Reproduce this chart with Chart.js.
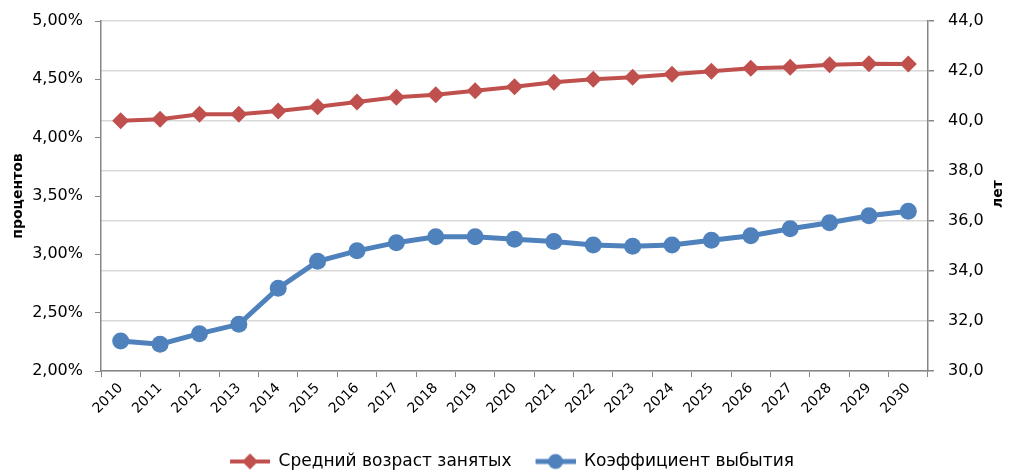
<!DOCTYPE html>
<html>
<head>
<meta charset="utf-8">
<script src="https://cdn.jsdelivr.net/npm/chart.js@4"></script>
<style>
  html, body { margin: 0; padding: 0; background: #fff; }
  #wrap { width: 1010px; height: 473px; }
</style>
</head>
<body>
<div id="wrap"><canvas id="myChart" width="1010" height="473"></canvas></div>
<script>
const years = ['2010', '2011', '2012', '2013', '2014', '2015', '2016', '2017', '2018', '2019', '2020',
  '2021', '2022', '2023', '2024', '2025', '2026', '2027', '2028', '2029', '2030'];

// средний возраст занятых, лет (правая ось)
const avgAge = [40.01, 40.07, 40.27, 40.27, 40.40, 40.57, 40.76, 40.95, 41.05, 41.21, 41.37,
  41.55, 41.67, 41.75, 41.87, 41.99, 42.11, 42.15, 42.25, 42.29, 42.28];

// коэффициент выбытия, % (левая ось)
const retireRate = [2.257, 2.23, 2.32, 2.40, 2.71, 2.94, 3.03, 3.10, 3.15, 3.15, 3.13,
  3.11, 3.08, 3.07, 3.08, 3.12, 3.16, 3.22, 3.27, 3.33, 3.37];

const red = '#C0504D';
const blue = '#4F81BD';
const axisGray = '#868686';
const font = 'DejaVu Sans';

// значок легенды: линия с маркером, слева пустое место как отступ между пунктами
function legendIcon(color, kind) {
  const c = document.createElement('canvas');
  c.width = 54; c.height = 18;
  const g = c.getContext('2d');
  g.strokeStyle = color;
  g.lineWidth = kind === 'circle' ? 5 : 4;
  g.beginPath(); g.moveTo(14, 9); g.lineTo(54, 9); g.stroke();
  g.fillStyle = color;
  g.beginPath();
  if (kind === 'circle') {
    g.arc(34, 9, 7.5, 0, Math.PI * 2);
  } else {
    g.moveTo(34, 1); g.lineTo(42, 9); g.lineTo(34, 17); g.lineTo(26, 9); g.closePath();
  }
  g.fill();
  return c;
}
const icons = [legendIcon(red, 'diamond'), legendIcon(blue, 'circle')];

// правая подпись оси читается снизу вверх, как и левая
const rightTitle = {
  id: 'rightTitle',
  afterDraw(chart) {
    const ctx = chart.ctx;
    ctx.save();
    ctx.translate(998, 194);
    ctx.rotate(-Math.PI / 2);
    ctx.font = 'bold 14px ' + font;
    ctx.fillStyle = '#000';
    ctx.textAlign = 'center';
    ctx.textBaseline = 'middle';
    ctx.fillText('лет', 0, 0);
    ctx.restore();
  }
};

function noPad(scale) {
  scale.paddingTop = 0;
  scale.paddingBottom = 0;
}

new Chart(document.getElementById('myChart'), {
  type: 'line',
  data: {
    labels: years,
    datasets: [{
      label: 'Средний возраст занятых',
      data: avgAge,
      yAxisID: 'yAge',
      borderColor: red,
      backgroundColor: red,
      borderWidth: 4,
      pointStyle: 'rectRot',
      pointRadius: 8.5,
      pointHoverRadius: 8.5,
      pointBorderWidth: 0,
      tension: 0
    }, {
      label: 'Коэффициент выбытия',
      data: retireRate,
      yAxisID: 'yPct',
      borderColor: blue,
      backgroundColor: blue,
      borderWidth: 5,
      pointStyle: 'circle',
      pointRadius: 8.5,
      pointHoverRadius: 8.5,
      pointBorderWidth: 0,
      tension: 0
    }]
  },
  options: {
    responsive: false,
    animation: false,
    layout: { padding: { top: 21, left: 0, right: 0, bottom: -7 } },
    plugins: {
      tooltip: { enabled: false },
      legend: {
        position: 'bottom',
        labels: {
          usePointStyle: true,
          pointStyleWidth: 54,
          padding: 10,
          color: '#000',
          font: { family: font, size: 17 },
          generateLabels(chart) {
            const items = Chart.defaults.plugins.legend.labels.generateLabels(chart);
            items.forEach((it, i) => { it.pointStyle = icons[i]; });
            return items;
          }
        }
      }
    },
    scales: {
      x: {
        offset: true,
        grid: { display: true, drawOnChartArea: false, offset: true, color: axisGray, tickLength: 6 },
        border: { color: axisGray, width: 1.5 },
        ticks: { color: '#000', font: { family: font, size: 14 }, minRotation: 45, maxRotation: 45, autoSkip: false },
        afterFit(scale) { scale.height = 72; }
      },
      yPct: {
        position: 'left',
        min: 2, max: 5,
        grid: { drawOnChartArea: false, color: axisGray, tickLength: 6 },
        border: { color: axisGray, width: 1.5 },
        ticks: {
          stepSize: 0.5,
          padding: 12,
          color: '#000',
          font: { family: font, size: 16 },
          callback: v => v.toFixed(2).replace('.', ',') + '%'
        },
        title: { display: true, text: 'процентов', color: '#000', font: { family: font, size: 14, weight: 'bold' }, padding: { top: 10, bottom: 0 } },
        afterFit(scale) { scale.width = 101; noPad(scale); }
      },
      yAge: {
        position: 'right',
        min: 30, max: 44,
        grid: { drawOnChartArea: true, color: '#D9D9D9', lineWidth: 1.5, tickLength: 6, tickColor: axisGray },
        border: { color: axisGray, width: 1.5 },
        ticks: {
          stepSize: 2,
          padding: 14,
          color: '#000',
          font: { family: font, size: 16 },
          callback: v => v.toFixed(1).replace('.', ',')
        },
        afterFit(scale) { scale.width = 82; noPad(scale); }
      }
    }
  },
  plugins: [rightTitle]
});
</script>
</body>
</html>
